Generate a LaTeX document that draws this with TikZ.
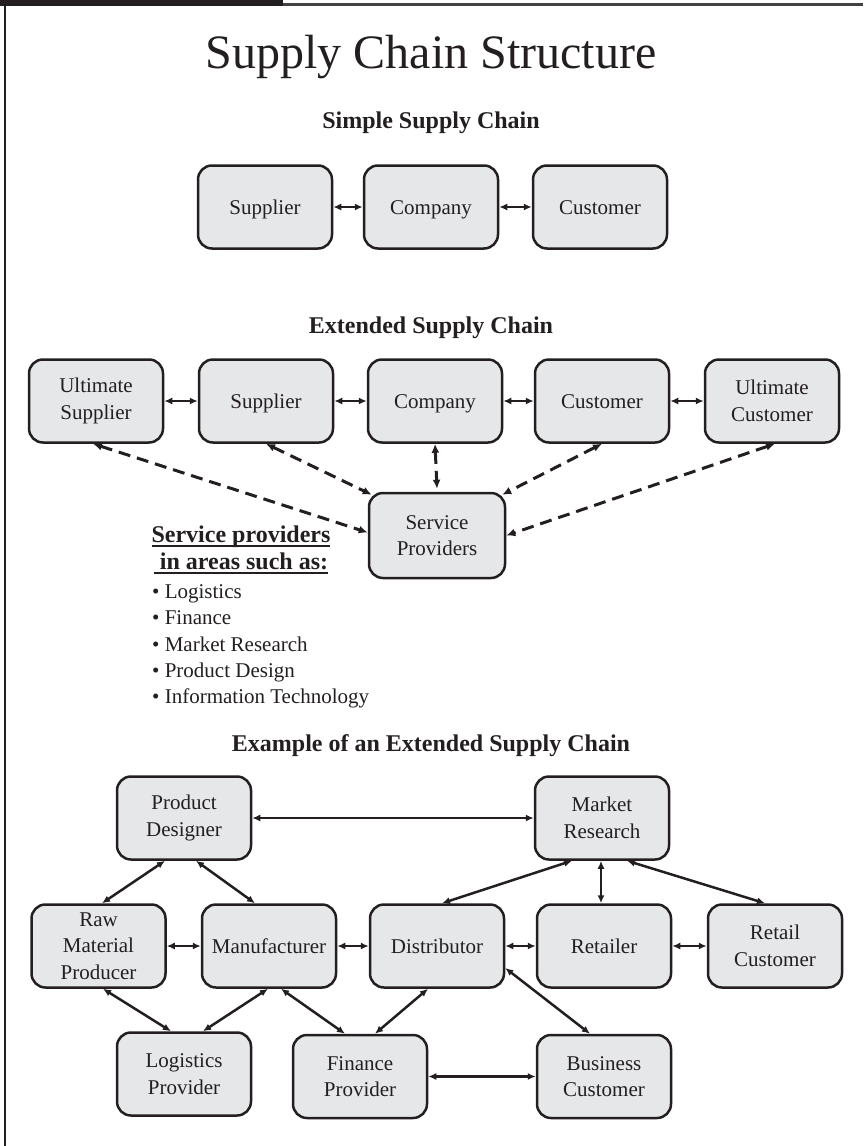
\documentclass[tikz,border=0pt]{standalone}
\usepackage{fontspec}
\setmainfont{Liberation Serif}
\usetikzlibrary{arrows.meta,calc}
\definecolor{ink}{HTML}{231F20}
\definecolor{boxfill}{HTML}{E6E7E9}
\newcommand\ulsp[1]{\setbox0\hbox{#1}\rlap{\rule[-4pt]{\wd0}{1.6pt}}\box0}
\begin{document}
\begin{tikzpicture}[x=1pt,y=-1pt,
  every node/.style={text=ink},
  blk/.style={draw=ink, fill=boxfill, line width=2.5pt, rounded corners=14pt,
    minimum width=134pt, minimum height=83pt, inner sep=0pt, align=center,
    font=\fontsize{21}{26.5}\selectfont},
  one/.style={text height=17pt, text depth=3pt},
  hdr/.style={anchor=base, font=\fontsize{24}{27}\selectfont\bfseries},
  lst/.style={anchor=base west, inner sep=0pt, font=\fontsize{21}{26}\selectfont},
  link/.style={draw=ink, line width=2.5pt, {Latex[length=8pt,width=7pt]}-{Latex[length=8pt,width=7pt]}},
  dlink/.style={draw=ink, line width=3pt, dash pattern=on 12pt off 7pt,
    {Latex[length=9pt,width=8pt]}-{Latex[length=9pt,width=8pt]}}
]
\useasboundingbox (0,0) rectangle (863,1146);
% frame
\fill[ink] (0,0) rectangle (283,6);
\draw[ink!85, line width=3pt] (283,4.5) -- (863,4.5);
\draw[ink, line width=1.8pt] (5,0) -- (5,1146);

% title and headers
\node[anchor=base, font=\fontsize{48}{54}\selectfont] (title) at (431,68) {Supply Chain Structure};
\node[hdr] (h1) at (431,128) {Simple Supply Chain};
\node[hdr] (h2) at (431,333) {Extended Supply Chain};
\node[hdr] (h3) at (431,751) {Example of an Extended Supply Chain};

% simple chain
\node[blk, one] (s1) at (265,207) {Supplier};
\node[blk, one] (s2) at (431,207) {Company};
\node[blk, one] (s3) at (600,207) {Customer};
\draw[link] (s1) -- (s2);
\draw[link] (s2) -- (s3);

% extended chain
\node[blk] (us) at (96,401) {Ultimate\\Supplier};
\node[blk, one] (sup) at (266,401) {Supplier};
\node[blk, one] (comp) at (435,401) {Company};
\node[blk, one] (cus) at (602,401) {Customer};
\node[blk] (uc) at (772,401) {Ultimate\\Customer};
\draw[link] (us) -- (sup);
\draw[link] (sup) -- (comp);
\draw[link] (comp) -- (cus);
\draw[link] (cus) -- (uc);
\node[blk, minimum width=136pt, minimum height=85pt] (sp) at (437,535.5) {Service\\Providers};
\draw[dlink] ([xshift=-3pt]us.south) -- ([yshift=3pt]sp.west);
\draw[dlink] (sup.south) -- ([xshift=4pt,yshift=-3pt]sp.north west);
\draw[dlink] (comp.south) -- ([yshift=3pt]sp.north);
\draw[dlink] (cus.south) -- ([xshift=-4pt,yshift=-3pt]sp.north east);
\draw[dlink] ([xshift=3pt]uc.south) -- (sp.east);

% service provider list
\node[anchor=base, inner sep=0pt, align=center, font=\fontsize{24}{27}\selectfont\bfseries] (sph) at (241,569.5)
  {\ulsp{Service providers}\\\ulsp{\ in areas such as:}};
\node[lst] (l1) at (152,598) {• Logistics};
\node[lst] (l2) at (152,624.5) {• Finance};
\node[lst] (l3) at (152,651) {• Market Research};
\node[lst] (l4) at (152,677) {• Product Design};
\node[lst] (l5) at (152,703) {• Information Technology};

% example network
\node[blk] (pd) at (184,818) {Product\\Designer};
\node[blk] (mr) at (602,818) {Market\\Research};
\node[blk] (rmp) at (98.5,946) {Raw\\Material\\Producer};
\node[blk, one] (man) at (269,946) {Manufacturer};
\node[blk, one] (dis) at (437,946) {Distributor};
\node[blk, one] (ret) at (604,946) {Retailer};
\node[blk] (rc) at (775,946) {Retail\\Customer};
\node[blk] (lp) at (184,1074) {Logistics\\Provider};
\node[blk] (fp) at (360,1076.5) {Finance\\Provider};
\node[blk] (bc) at (604,1076.5) {Business\\Customer};

\draw[link] (pd.east) -- (mr.west);
\draw[link] ([xshift=-19pt]pd.south) -- ([xshift=3.5pt]rmp.north);
\draw[link] ([xshift=12pt]pd.south) -- ([xshift=-14pt]man.north);
\draw[link] (rmp.east) -- (man.west);
\draw[link] (man.east) -- (dis.west);
\draw[link] (dis.east) -- (ret.west);
\draw[link] (ret.east) -- (rc.west);
\draw[link] ([xshift=4.5pt]rmp.south) -- ([xshift=-13pt]lp.north);
\draw[link] ([xshift=-1pt]man.south) -- ([xshift=19pt]lp.north);
\draw[link] ([xshift=12pt]man.south) -- ([xshift=-15pt]fp.north);
\draw[link] ([xshift=-9pt]dis.south) -- ([xshift=15pt]fp.north);
\draw[link] (fp.east) -- (bc.west);
\draw[link] ([yshift=-22pt]dis.east) -- ([xshift=-14pt]bc.north);
\draw[link] ([xshift=-30pt]mr.south) -- ([xshift=5pt]dis.north);
\draw[link] ([xshift=-1pt]mr.south) -- ([xshift=-3pt]ret.north);
\draw[link] ([xshift=25pt]mr.south) -- ([xshift=-10pt]rc.north);
\end{tikzpicture}
\end{document}
